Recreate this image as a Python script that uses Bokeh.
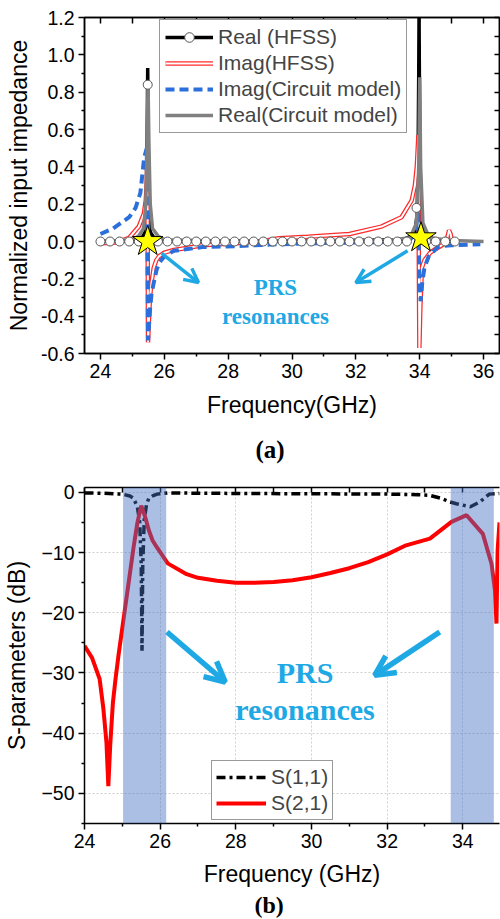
from bokeh.plotting import figure
from bokeh.models import (Range1d, FixedTicker, LinearAxis, Legend, LegendItem, Title,
                          Arrow, OpenHead, Label, BoxAnnotation, NumeralTickFormatter,
                          CustomJSTickFormatter)
from bokeh.layouts import column
from bokeh.embed import file_html
from bokeh.resources import INLINE

# ---------------- Panel (a) data ----------------
real_hfss_freq = [24.0, 25.0, 25.3, 25.4, 25.44, 25.46, 25.48, 25.50, 25.52, 25.56, 25.7, 26.0, 30.0,
                  33.5, 33.85, 33.92, 33.95, 33.97, 33.98, 33.99, 34.01, 34.04, 34.1, 34.5, 35.0]
real_hfss_val = [0.0, 0.005, 0.02, 0.05, 0.2, 0.5, 0.93, 0.5, 0.2, 0.05, 0.015, 0.005, 0.003,
                 0.01, 0.04, 0.15, 0.45, 0.9, 1.22, 0.9, 0.45, 0.15, 0.04, 0.01, 0.003]

real_hfss_mk_freq = [24.0, 24.3, 24.6, 24.9, 25.2, 25.48, 25.8, 26.1, 26.4, 26.7, 27.0, 27.3, 27.6,
                     27.9, 28.2, 28.5, 28.8, 29.1, 29.4, 29.7, 30.0, 30.3, 30.6, 30.9, 31.2, 31.5,
                     31.8, 32.1, 32.4, 32.7, 33.0, 33.3, 33.6, 33.9, 34.2, 34.5, 34.8, 35.1]
real_hfss_mk_val = [0.0, 0.0, 0.0, 0.0, 0.0, 0.84, 0.0, 0.0, 0.0, 0.0, 0.0, 0.0, 0.0,
                    0.0, 0.0, 0.0, 0.0, 0.0, 0.0, 0.0, 0.0, 0.0, 0.0, 0.0, 0.0, 0.0,
                    0.0, 0.0, 0.0, 0.0, 0.0, 0.0, 0.0, 0.18, 0.0, 0.0, 0.0, 0.0]

imag_hfss_freq = [24.0, 24.5, 24.9, 25.2, 25.36, 25.42, 25.45, 25.47, 25.48, 25.49, 25.51, 25.55,
                  25.6, 25.67, 25.75, 25.83, 26.0, 26.3, 26.7, 27.2, 28.2, 29.0, 29.6, 30.5, 31.8,
                  32.8, 33.43, 33.75, 33.85, 33.91, 33.94, 33.96, 33.97, 33.99, 34.02, 34.07,
                  34.15, 34.33, 34.5, 34.7, 34.85, 34.92, 34.97, 35.0]
imag_hfss_val = [-0.01, -0.005, 0.02, 0.08, 0.15, 0.22, 0.32, 0.48, 0.0, -0.54, -0.45, -0.3,
                 -0.22, -0.14, -0.1, -0.08, -0.06, -0.045, -0.035, -0.02, -0.01, 0.0, 0.018, 0.025,
                 0.04, 0.08, 0.13, 0.22, 0.3, 0.4, 0.5, 0.57, 0.0, -0.57, -0.35, -0.14, -0.1,
                 -0.06, -0.04, -0.02, 0.01, 0.06, 0.04, 0.01]

imag_cm_freq = [24.0, 24.4, 24.9, 25.1, 25.25, 25.37, 25.45, 25.47, 25.49, 25.52, 25.55, 25.6,
                25.67, 25.76, 25.86, 26.0, 26.3, 27.2, 28.2, 29.5, 31.0, 33.0, 33.7, 33.88, 33.95,
                33.97, 33.99, 34.03, 34.08, 34.15, 34.28, 34.6, 35.0, 35.9]
imag_cm_val = [0.04, 0.07, 0.13, 0.18, 0.26, 0.45, 0.5, 0.0, -0.53, -0.45, -0.37, -0.28,
               -0.22, -0.15, -0.11, -0.08, -0.05, -0.03, -0.025, -0.015, -0.008, -0.003, 0.01,
               0.05, 0.18, 0.0, -0.2, -0.32, -0.22, -0.14, -0.08, -0.025, -0.02, -0.015]

real_cm_freq = [24.0, 25.0, 25.2, 25.35, 25.42, 25.46, 25.49, 25.52, 25.56, 25.63, 25.8, 26.0,
                28.0, 33.0, 33.7, 33.9, 33.97, 34.0, 34.03, 34.1, 34.3, 35.0, 36.0]
real_cm_val = [0.0, 0.01, 0.03, 0.07, 0.2, 0.5, 0.85, 0.5, 0.2, 0.07, 0.03, 0.01,
               0.003, 0.005, 0.02, 0.1, 0.4, 0.88, 0.4, 0.1, 0.02, 0.005, 0.0]

star_freq = [25.48, 34.04]
star_val = [0.0, 0.02]

a_xticks = [24, 26, 28, 30, 32, 34, 36]
a_xminor = [25, 27, 29, 31, 33, 35]
a_yticks = [-0.6, -0.4, -0.2, 0.0, 0.2, 0.4, 0.6, 0.8, 1.0, 1.2]
a_yminor = [-0.5, -0.3, -0.1, 0.1, 0.3, 0.5, 0.7, 0.9, 1.1]

# ---------------- Panel (b) data ----------------
s11_freq = [24.0, 24.5, 25.0, 25.2, 25.3, 25.4, 25.46, 25.5, 25.52, 25.54, 25.58, 25.64, 25.7,
            25.8, 25.92, 26.2, 27.0, 28.4, 30.3, 32.1, 32.8, 33.13, 33.43, 33.66, 33.83, 34.2,
            34.45, 34.7, 34.97]
s11_db = [-0.1, -0.15, -0.3, -0.6, -1.0, -2.5, -5.0, -12.0, -26.3, -12.0, -4.5, -2.0, -1.0,
          -0.6, -0.3, -0.1, -0.15, -0.2, -0.25, -0.3, -0.4, -0.5, -1.0, -1.6, -1.9, -2.4,
          -1.6, -0.3, -0.2]

s21_freq = [24.0, 24.2, 24.4, 24.5, 24.58, 24.63, 24.68, 24.75, 24.82, 24.9, 25.0, 25.1, 25.2,
            25.3, 25.4, 25.5, 25.6, 25.7, 25.8, 25.92, 26.2, 26.7, 27.0, 27.5, 28.0, 28.5, 29.0,
            29.5, 30.0, 30.5, 31.0, 31.5, 32.0, 32.5, 33.13, 33.7, 34.1, 34.53, 34.76, 34.85,
            34.89, 34.92, 34.97]
s21_db = [-25.5, -27.5, -31.0, -36.0, -41.5, -48.8, -42.0, -35.0, -31.0, -27.0, -22.5, -18.0,
          -13.5, -9.0, -5.0, -2.2, -4.0, -6.3, -8.0, -9.2, -11.8, -13.6, -14.2, -14.7, -15.0,
          -15.0, -14.9, -14.6, -14.1, -13.4, -12.6, -11.6, -10.3, -8.8, -7.7, -4.9, -3.8, -6.9,
          -11.9, -16.3, -21.8, -9.7, -5.0]

band_start = [25.02, 33.68]
band_end = [26.16, 34.82]

b_xticks = [24, 26, 28, 30, 32, 34]
b_xminor = [25, 27, 29, 31, 33]
b_yticks = [0, -10, -20, -30, -40, -50]
b_yminor = [-5, -15, -25, -35, -45, -55]

SANS = "Liberation Sans"
SERIF = "Liberation Serif"
CYAN = "#1EA8E4"
TICK_FS = "19.5px"


def style_axis(ax):
    ax.axis_line_width = 1.5
    ax.axis_line_color = "black"
    ax.major_tick_line_width = 1.5
    ax.minor_tick_line_width = 1.5
    ax.major_tick_line_color = "black"
    ax.minor_tick_line_color = "black"
    ax.major_label_text_font = SANS
    ax.major_label_text_font_size = TICK_FS
    ax.major_label_text_color = "black"
    ax.axis_label_text_font = SANS
    ax.axis_label_text_font_size = "23px"
    ax.axis_label_text_font_style = "normal"
    ax.axis_label_text_color = "black"


def blank_axis(ticks, minor, tick_in):
    ax = LinearAxis(ticker=FixedTicker(ticks=ticks, minor_ticks=minor),
                    formatter=CustomJSTickFormatter(code="return ''"))
    style_axis(ax)
    ax.major_tick_in = tick_in
    ax.major_tick_out = 0
    ax.minor_tick_in = tick_in
    ax.minor_tick_out = 0
    ax.major_label_standoff = 0
    ax.axis_label = None
    return ax


def panel_tag(text, offset, standoff, size):
    return Title(text=text, align="left", offset=offset, standoff=standoff,
                 text_font=SERIF, text_font_style="bold", text_font_size=size,
                 text_color="black")


# ================= Panel (a) =================
pa = figure(width=500, height=480, x_range=Range1d(23.5, 36.5), y_range=Range1d(-0.6, 1.2),
            output_backend="svg", toolbar_location=None,
            min_border_left=82, min_border_right=1, min_border_top=17, min_border_bottom=127)
pa.xgrid.visible = False
pa.ygrid.visible = False
pa.outline_line_color = "black"
pa.outline_line_width = 1.5
pa.outline_line_alpha = 1.0
pa.background_fill_color = "white"
pa.border_fill_color = "white"

xa = pa.xaxis[0]
xa.ticker = FixedTicker(ticks=a_xticks, minor_ticks=a_xminor)
style_axis(xa)
xa.axis_label = "Frequency(GHz)"
xa.major_tick_out = 6
xa.major_tick_in = 0
xa.minor_tick_out = 3
xa.minor_tick_in = 0
xa.major_label_standoff = 4
xa.axis_label_standoff = 11

ya = pa.yaxis[0]
ya.ticker = FixedTicker(ticks=a_yticks, minor_ticks=a_yminor)
ya.formatter = NumeralTickFormatter(format="0.0")
style_axis(ya)
ya.axis_label = "Normalized input impedance"
ya.major_tick_out = 6
ya.major_tick_in = 0
ya.minor_tick_out = 3
ya.minor_tick_in = 0
ya.major_label_standoff = 4
ya.axis_label_standoff = 6

pa.add_layout(blank_axis(a_xticks, a_xminor, 6), "above")
pa.add_layout(blank_axis(a_yticks, a_yminor, 5), "right")
pa.add_layout(panel_tag("(a)", 171, 27, "25px"), "below")

r_black = pa.line(real_hfss_freq, real_hfss_val, line_color="black", line_width=3.5)
r_red_o = pa.line(imag_hfss_freq, imag_hfss_val, line_color="#FF2A2A", line_width=4.5)
r_red_i = pa.line(imag_hfss_freq, imag_hfss_val, line_color="white", line_width=2)
r_blue = pa.line(imag_cm_freq, imag_cm_val, line_color="#2A6FDB", line_width=4,
                 line_dash="9 5")
r_grey = pa.line(real_cm_freq, real_cm_val, line_color="#808080", line_width=3.5)
r_circ = pa.scatter(real_hfss_mk_freq, real_hfss_mk_val, marker="circle", size=9,
                    fill_color="white", line_color="#555555", line_width=1)
pa.scatter(star_freq, star_val, marker="star", size=32, fill_color="#FFFF00",
           line_color="black", line_width=1)

leg_a = Legend(items=[
    LegendItem(label="Real (HFSS)", renderers=[r_black, r_circ]),
    LegendItem(label="Imag(HFSS)", renderers=[r_red_o, r_red_i]),
    LegendItem(label="Imag(Circuit model)", renderers=[r_blue]),
    LegendItem(label="Real(Circuit model)", renderers=[r_grey]),
], location=(75, 220))
leg_a.label_text_font = SANS
leg_a.label_text_font_size = "21px"
leg_a.label_height = 24
leg_a.glyph_height = 24
leg_a.glyph_width = 48
leg_a.label_standoff = 5
leg_a.spacing = 2
leg_a.padding = 5
leg_a.margin = 0
leg_a.border_line_color = "#333333"
leg_a.border_line_width = 1
leg_a.background_fill_alpha = 1.0
pa.add_layout(leg_a)

for xs, ys, xe, ye in [(25.92, -0.064, 27.07, -0.22), (33.62, -0.05, 32.0, -0.22)]:
    pa.add_layout(Arrow(x_start=xs, y_start=ys, x_end=xe, y_end=ye, line_color=CYAN,
                        line_width=3.5,
                        end=OpenHead(line_color=CYAN, line_width=3.5, size=14)))

pa.add_layout(Label(x=29.48, y=-0.246, text="PRS", text_align="center", text_baseline="middle",
                    text_font=SERIF, text_font_style="bold", text_font_size="23px",
                    text_color=CYAN))
pa.add_layout(Label(x=29.48, y=-0.40, text="resonances", text_align="center",
                    text_baseline="middle", text_font=SERIF, text_font_style="bold",
                    text_font_size="23px", text_color=CYAN))

# ================= Panel (b) =================
pb = figure(width=500, height=439, x_range=Range1d(24, 34.97), y_range=Range1d(-55, 0.8),
            output_backend="svg", toolbar_location=None,
            min_border_left=84, min_border_right=0, min_border_top=7, min_border_bottom=96)
pb.outline_line_color = None
pb.background_fill_color = "white"
pb.border_fill_color = "white"
pb.xgrid.ticker = FixedTicker(ticks=b_xticks)
pb.ygrid.ticker = FixedTicker(ticks=b_yticks)
for g in (pb.xgrid[0], pb.ygrid[0]):
    g.grid_line_color = "#CFCFCF"
    g.grid_line_dash = "2 2"
    g.grid_line_width = 1

xb = pb.xaxis[0]
xb.ticker = FixedTicker(ticks=b_xticks, minor_ticks=b_xminor)
style_axis(xb)
xb.axis_label = "Frequency (GHz)"
xb.major_tick_out = 6
xb.major_tick_in = 0
xb.minor_tick_out = 3
xb.minor_tick_in = 0
xb.major_label_standoff = 4
xb.axis_label_standoff = 10

yb = pb.yaxis[0]
yb.ticker = FixedTicker(ticks=b_yticks, minor_ticks=b_yminor)
style_axis(yb)
yb.axis_label = "S-parameters (dB)"
yb.major_tick_out = 6
yb.major_tick_in = 0
yb.minor_tick_out = 3
yb.minor_tick_in = 0
yb.major_label_standoff = 4
yb.axis_label_standoff = 8

pb.add_layout(blank_axis(b_xticks, b_xminor, 5), "above")
pb.add_layout(panel_tag("(b)", 170, 0, "24px"), "below")

r_s11 = pb.line(s11_freq, s11_db, line_color="black", line_width=3.5, line_dash="9 4 3 4")
r_s21 = pb.line(s21_freq, s21_db, line_color="#FF0000", line_width=4)

for b0, b1 in zip(band_start, band_end):
    pb.add_layout(BoxAnnotation(left=b0, right=b1, fill_color="#4472C4", fill_alpha=0.45,
                                line_color=None))

leg_b = Legend(items=[
    LegendItem(label="S(1,1)", renderers=[r_s11]),
    LegendItem(label="S(2,1)", renderers=[r_s21]),
], location=(127, 3))
leg_b.label_text_font = SANS
leg_b.label_text_font_size = "21px"
leg_b.label_height = 24
leg_b.glyph_height = 24
leg_b.glyph_width = 50
leg_b.label_standoff = 5
leg_b.spacing = 2
leg_b.padding = 4
leg_b.margin = 0
leg_b.border_line_color = "#333333"
leg_b.border_line_width = 1
leg_b.background_fill_alpha = 1.0
pb.add_layout(leg_b)

for xs, ys, xe, ye in [(26.18, -23.2, 27.72, -31.5), (33.39, -23.2, 31.67, -30.4)]:
    pb.add_layout(Arrow(x_start=xs, y_start=ys, x_end=xe, y_end=ye, line_color=CYAN,
                        line_width=5.5,
                        end=OpenHead(line_color=CYAN, line_width=5.5, size=20)))

pb.add_layout(Label(x=29.83, y=-29.9, text="PRS", text_align="center", text_baseline="middle",
                    text_font=SERIF, text_font_style="bold", text_font_size="30px",
                    text_color=CYAN))
pb.add_layout(Label(x=29.83, y=-36.0, text="resonances", text_align="center",
                    text_baseline="middle", text_font=SERIF, text_font_style="bold",
                    text_font_size="30px", text_color=CYAN))

layout = column(pa, pb, spacing=0)
open("out.html", "w").write(file_html(layout, INLINE))
